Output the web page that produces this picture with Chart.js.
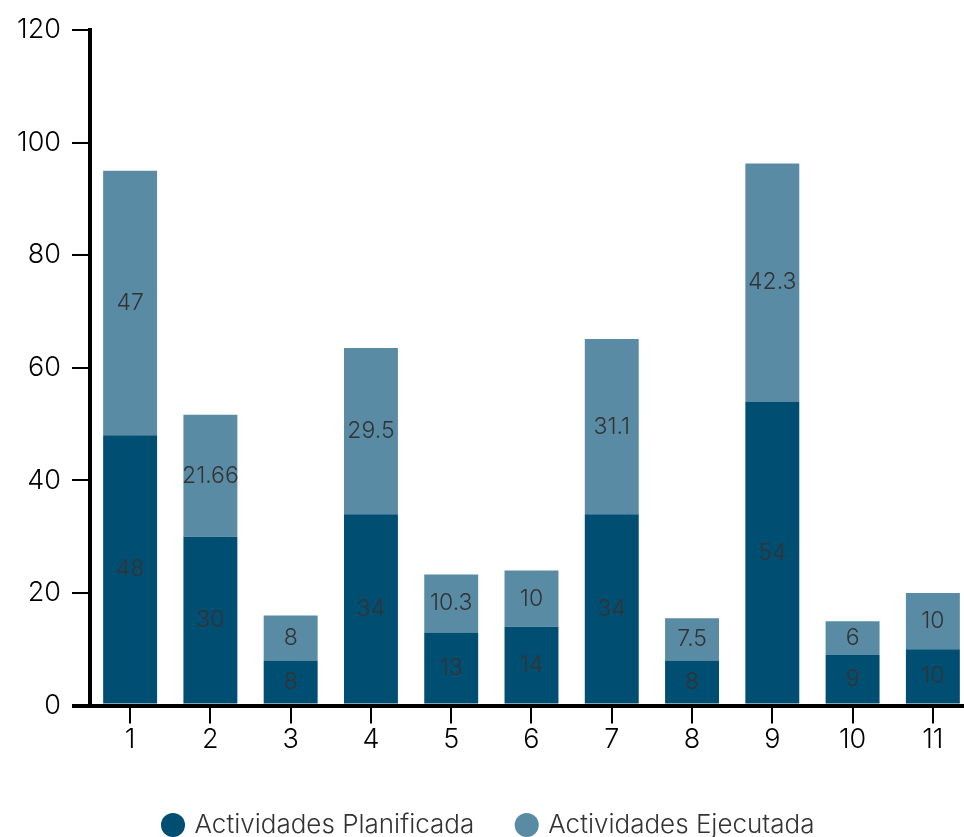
<!DOCTYPE html>
<html>
<head>
<meta charset="utf-8">
<script src="https://cdn.jsdelivr.net/npm/chart.js@4"></script>
<style>
  html, body { margin: 0; padding: 0; overflow: hidden; background: #fff; }
  canvas { display: block; }
</style>
</head>
<body>
<canvas id="myChart" width="982" height="848"></canvas>
<script>
'use strict'

const categories = ['1', '2', '3', '4', '5', '6', '7', '8', '9', '10', '11']
const planificada = [48, 30, 8, 34, 13, 14, 34, 8, 54, 9, 10]
const ejecutada = [47, 21.66, 8, 29.5, 10.3, 10, 31.1, 7.5, 42.3, 6, 10]

const fontFamily = 'Inter, "Open Sans", sans-serif'

// draws each value in the middle of its bar segment
const barLabels = {
  id: 'barLabels',
  afterDatasetsDraw (chart) {
    const ctx = chart.ctx
    ctx.save()
    ctx.font = '300 23px ' + fontFamily
    ctx.fillStyle = '#333333'
    ctx.textAlign = 'center'
    ctx.textBaseline = 'middle'
    chart.data.datasets.forEach((ds, i) => {
      const meta = chart.getDatasetMeta(i)
      meta.data.forEach((bar, j) => {
        const p = bar.getProps(['x', 'y', 'base'], true)
        ctx.fillText(String(ds.data[j]), p.x, (p.y + p.base) / 2)
      })
    })
    ctx.restore()
  }
}

const myChart = new Chart(document.querySelector('#myChart'), {
  type: 'bar',
  data: {
    labels: categories,
    datasets: [{
      label: 'Actividades Planificada',
      data: planificada,
      backgroundColor: '#004f73'
    }, {
      label: 'Actividades Ejecutada',
      data: ejecutada,
      backgroundColor: '#598ba5'
    }]
  },
  options: {
    responsive: false,
    devicePixelRatio: 1,
    animation: { duration: 0 },
    layout: { padding: { top: 30, right: 9, left: 6, bottom: 0 } },
    datasets: {
      bar: { barPercentage: 0.672, categoryPercentage: 1 }
    },
    scales: {
      x: {
        stacked: true,
        border: { display: true, color: '#000', width: 4 },
        grid: { offset: false, drawOnChartArea: false, drawTicks: true, tickLength: 18, color: '#000', lineWidth: 2 },
        ticks: { color: '#000', font: { family: fontFamily, size: 27, weight: '300' }, padding: 0 },
        afterFit (scale) { scale.height += 12 }
      },
      y: {
        stacked: true,
        min: 0,
        max: 120,
        border: { display: true, color: '#000', width: 4 },
        grid: {
          drawOnChartArea: false,
          drawTicks: true,
          tickLength: 18,
          color: '#000',
          lineWidth: (c) => c.index === 0 ? 4 : 2
        },
        ticks: { stepSize: 20, color: '#000', font: { family: fontFamily, size: 27, weight: '300' }, padding: 11 }
      }
    },
    plugins: {
      legend: {
        position: 'bottom',
        labels: {
          usePointStyle: true,
          pointStyle: 'circle',
          boxWidth: 17,
          boxHeight: 17,
          padding: 44,
          color: '#333',
          font: { family: fontFamily, size: 26, weight: '300' }
        }
      },
      tooltip: { enabled: false }
    }
  },
  plugins: [barLabels]
})
</script>
</body>
</html>
